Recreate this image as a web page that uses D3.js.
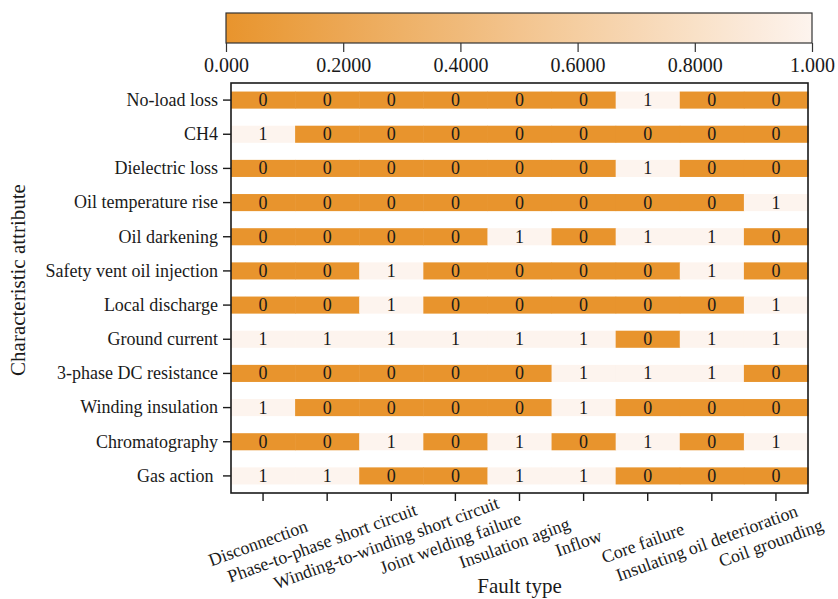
<!DOCTYPE html>
<html>
<head>
<meta charset="utf-8">
<script src="https://cdn.jsdelivr.net/npm/d3@7"></script>
<style>
  html, body { margin: 0; padding: 0; background: #fff; }
  svg text { font-family: "Liberation Serif", "Times New Roman", serif; fill: #1a1a1a; }
</style>
</head>
<body>
<svg id="chart" width="838" height="599"></svg>
<script>
// Fault types (columns) and characteristic attributes (rows)
const faultTypes = [
  "Disconnection", "Phase-to-phase short circuit", "Winding-to-winding short circuit",
  "Joint welding failure", "Insulation aging", "Inflow", "Core failure",
  "Insulating oil deterioration", "Coil grounding"
];
const attributes = [
  "No-load loss", "CH4", "Dielectric loss", "Oil temperature rise", "Oil darkening",
  "Safety vent oil injection", "Local discharge", "Ground current",
  "3-phase DC resistance", "Winding insulation", "Chromatography", "Gas action "
];
// Attribute-by-fault indicator matrix, one row per attribute
const noLoadLoss        = [0, 0, 0, 0, 0, 0, 1, 0, 0];
const ch4               = [1, 0, 0, 0, 0, 0, 0, 0, 0];
const dielectricLoss    = [0, 0, 0, 0, 0, 0, 1, 0, 0];
const oilTempRise       = [0, 0, 0, 0, 0, 0, 0, 0, 1];
const oilDarkening      = [0, 0, 0, 0, 1, 0, 1, 1, 0];
const safetyVent        = [0, 0, 1, 0, 0, 0, 0, 1, 0];
const localDischarge    = [0, 0, 1, 0, 0, 0, 0, 0, 1];
const groundCurrent     = [1, 1, 1, 1, 1, 1, 0, 1, 1];
const dcResistance      = [0, 0, 0, 0, 0, 1, 1, 1, 0];
const windingInsulation = [1, 0, 0, 0, 0, 1, 0, 0, 0];
const chromatography    = [0, 0, 1, 0, 1, 0, 1, 0, 1];
const gasAction         = [1, 1, 0, 0, 1, 1, 0, 0, 0];
const matrix = [noLoadLoss, ch4, dielectricLoss, oilTempRise, oilDarkening, safetyVent,
  localDischarge, groundCurrent, dcResistance, windingInsulation, chromatography, gasAction];
// Colorbar ticks
const colorbarTicks = [0, 0.2, 0.4, 0.6, 0.8, 1.0];
const colorbarTickLabels = ["0.000", "0.2000", "0.4000", "0.6000", "0.8000", "1.000"];

const svg = d3.select("#chart");
const plot = { left: 231, right: 808, top: 83, bottom: 493 };
const cbar = { left: 226, right: 812, top: 13, bottom: 43 };

const color = d3.scaleLinear().domain([0, 1]).range(["#E8942D", "#FDF4EE"]).interpolate(d3.interpolateRgb);

const x = d3.scaleBand().domain(faultTypes).range([plot.left, plot.right]).padding(0);
const y = d3.scaleBand().domain(attributes).range([plot.top, plot.bottom]).paddingInner(0.5).paddingOuter(0.25);

// Cells
const cells = [];
matrix.forEach((row, i) => row.forEach((v, j) => cells.push({ attr: attributes[i], fault: faultTypes[j], v })));

svg.append("g").selectAll("rect").data(cells).join("rect")
  .attr("x", d => x(d.fault))
  .attr("y", d => y(d.attr))
  .attr("width", x.bandwidth() + 0.5)
  .attr("height", y.bandwidth())
  .attr("fill", d => color(d.v));

svg.append("g").selectAll("text").data(cells).join("text")
  .attr("x", d => x(d.fault) + x.bandwidth() / 2)
  .attr("y", d => y(d.attr) + y.bandwidth() / 2)
  .attr("text-anchor", "middle")
  .attr("dominant-baseline", "central")
  .attr("font-size", 18)
  .text(d => d.v);

// Frame
svg.append("rect")
  .attr("x", plot.left).attr("y", plot.top)
  .attr("width", plot.right - plot.left).attr("height", plot.bottom - plot.top)
  .attr("fill", "none").attr("stroke", "#1a1a1a").attr("stroke-width", 1.6);

// Y axis
const yAxis = svg.append("g").attr("transform", `translate(${plot.left},0)`)
  .call(d3.axisLeft(y).tickSize(8).tickPadding(5));
yAxis.select(".domain").remove();
yAxis.selectAll(".tick line").attr("stroke", "#1a1a1a").attr("stroke-width", 1.4);
yAxis.selectAll(".tick text").attr("font-size", 18).attr("font-family", "Liberation Serif")
  .attr("fill", "#1a1a1a").style("white-space", "pre");

// X axis
const xAxis = svg.append("g").attr("transform", `translate(0,${plot.bottom})`)
  .call(d3.axisBottom(x).tickSize(8).tickFormat(""));
xAxis.select(".domain").remove();
xAxis.selectAll(".tick line").attr("stroke", "#1a1a1a").attr("stroke-width", 1.4);

svg.append("g").selectAll("text").data(faultTypes).join("text")
  .attr("transform", d => `translate(${x(d) + x.bandwidth() / 2 - 5},543) rotate(-20)`)
  .attr("text-anchor", "middle")
  .attr("dominant-baseline", "central")
  .attr("font-size", 18)
  .text(d => d);

// Axis titles
svg.append("text")
  .attr("x", (plot.left + plot.right) / 2).attr("y", 593)
  .attr("text-anchor", "middle").attr("font-size", 21)
  .text("Fault type");
svg.append("text")
  .attr("transform", `translate(25,${(plot.top + plot.bottom) / 2 - 8}) rotate(-90)`)
  .attr("text-anchor", "middle").attr("font-size", 21)
  .text("Characteristic attribute");

// Colorbar
const defs = svg.append("defs");
const grad = defs.append("linearGradient").attr("id", "cbarGrad")
  .attr("x1", "0%").attr("x2", "100%").attr("y1", "0%").attr("y2", "0%");
d3.range(0, 1.0001, 0.1).forEach(t => {
  grad.append("stop").attr("offset", `${t * 100}%`).attr("stop-color", color(t));
});
svg.append("rect")
  .attr("x", cbar.left).attr("y", cbar.top)
  .attr("width", cbar.right - cbar.left).attr("height", cbar.bottom - cbar.top)
  .attr("fill", "url(#cbarGrad)")
  .attr("stroke", "#333").attr("stroke-width", 1.2);

const cx = d3.scaleLinear().domain([0, 1]).range([cbar.left, cbar.right]);
const cAxis = svg.append("g").attr("transform", `translate(0,${cbar.bottom})`)
  .call(d3.axisBottom(cx).tickValues(colorbarTicks).tickSize(9).tickPadding(6)
    .tickFormat((d, i) => colorbarTickLabels[i]));
cAxis.select(".domain").remove();
cAxis.selectAll(".tick line").attr("stroke", "#333").attr("stroke-width", 1.2);
cAxis.selectAll(".tick text").attr("font-size", 20).attr("font-family", "Liberation Serif").attr("fill", "#1a1a1a");
</script>
</body>
</html>
